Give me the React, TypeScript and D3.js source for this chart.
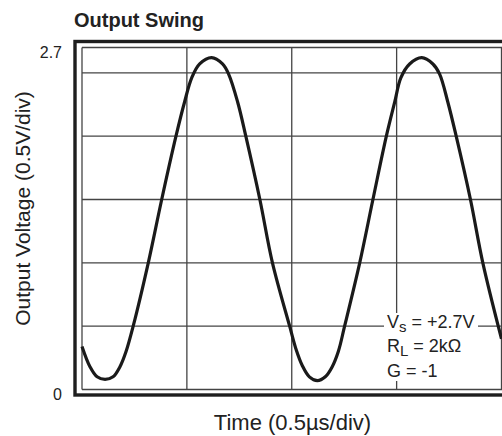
import React, { useEffect, useRef } from "react";
import * as d3 from "d3";

// scope trace: time in µs, output in volts
const timeUs = [
    0, 0.038, 0.072, 0.11, 0.148, 0.181, 0.21, 0.244, 0.316, 0.38, 0.448, 0.489, 0.523, 0.561, 0.618, 0.67, 0.699, 0.742, 0.781, 0.848, 0.908, 0.99,
    1.022, 1.05, 1.084, 1.122, 1.16, 1.193, 1.222, 1.252, 1.324, 1.387, 1.451, 1.491, 1.52, 1.562, 1.62, 1.673, 1.705, 1.744, 1.784, 1.852, 1.911, 2.0,
];
const outputV = [
    0.34, 0.18, 0.1, 0.08, 0.1, 0.18, 0.3, 0.5, 1.0, 1.5, 2.0, 2.27, 2.46, 2.57, 2.62, 2.57, 2.49, 2.27, 2.0, 1.5, 1.0, 0.5,
    0.31, 0.19, 0.1, 0.07, 0.1, 0.18, 0.3, 0.5, 1.0, 1.5, 2.0, 2.27, 2.46, 2.57, 2.62, 2.57, 2.49, 2.27, 2.0, 1.5, 1.0, 0.4,
];

const timeGrid = [0, 0.5, 1.0, 1.5, 2.0];
const voltGrid = [0, 0.5, 1.0, 1.5, 2.0, 2.5, 2.7];
const voltLabels = [2.7, 0];

const FONT = "'Liberation Sans', Arial, Helvetica, sans-serif";

const App = () => {
    const svgRef = useRef<SVGSVGElement>(null);

    useEffect(() => {
        const svg = d3.select(svgRef.current);
        svg.selectAll("*").remove();

        const x = d3.scaleLinear().domain([0, 2.0]).range([82, 501.5]);
        const y = d3.scaleLinear().domain([0, 2.7]).range([389.5, 47.5]);

        // thick outer frame (runs off the right edge like the source)
        svg.append("rect")
            .attr("x", 75)
            .attr("y", 41.5)
            .attr("width", 440)
            .attr("height", 353.5)
            .attr("fill", "none")
            .attr("stroke", "#1e1e1e")
            .attr("stroke-width", 3.4);

        // grid
        svg.selectAll(".vgrid")
            .data(timeGrid)
            .join("line")
            .attr("x1", d => x(d))
            .attr("x2", d => x(d))
            .attr("y1", y(2.7))
            .attr("y2", y(0))
            .attr("stroke", "#444")
            .attr("stroke-width", 1.3);

        svg.selectAll(".hgrid")
            .data(voltGrid)
            .join("line")
            .attr("x1", x(0))
            .attr("x2", 510)
            .attr("y1", d => y(d))
            .attr("y2", d => y(d))
            .attr("stroke", "#444")
            .attr("stroke-width", 1.3);

        // trace
        const pts: [number, number][] = timeUs.map((t, i) => [t, outputV[i]]);
        const line = d3.line<[number, number]>()
            .x(d => x(d[0]))
            .y(d => y(d[1]))
            .curve(d3.curveCatmullRom.alpha(0.5));

        svg.append("path")
            .datum(pts)
            .attr("d", line)
            .attr("fill", "none")
            .attr("stroke", "#1a1a1a")
            .attr("stroke-width", 3.2)
            .attr("stroke-linejoin", "round");

        // condition box
        svg.append("rect")
            .attr("x", 384)
            .attr("y", 313)
            .attr("width", 94)
            .attr("height", 68)
            .attr("fill", "#fff");

        const note = svg.append("g")
            .attr("font-family", FONT)
            .attr("font-size", 18)
            .attr("fill", "#222");

        const l1 = note.append("text").attr("x", 387).attr("y", 327.5);
        l1.append("tspan").text("V");
        l1.append("tspan").attr("dy", 4.5).attr("font-size", 15).text("s");
        l1.append("tspan").attr("dy", -4.5).text(" = +2.7V");

        const l2 = note.append("text").attr("x", 387).attr("y", 352);
        l2.append("tspan").text("R");
        l2.append("tspan").attr("dy", 4).attr("font-size", 15).text("L");
        l2.append("tspan").attr("dy", -4).text(" = 2kΩ");

        note.append("text").attr("x", 387).attr("y", 377).text("G = -1");

        // value labels at the frame corners
        svg.selectAll(".vlabel")
            .data(voltLabels)
            .join("text")
            .attr("x", 62)
            .attr("y", d => y(d) + 10)
            .attr("text-anchor", "end")
            .attr("font-family", FONT)
            .attr("font-size", 16)
            .attr("fill", "#222")
            .text(d => String(d));

        svg.append("text")
            .attr("x", 74)
            .attr("y", 27)
            .attr("font-family", FONT)
            .attr("font-weight", "bold")
            .attr("font-size", 20)
            .attr("fill", "#222")
            .text("Output Swing");

        svg.append("text")
            .attr("transform", "translate(30,208.5) rotate(-90)")
            .attr("text-anchor", "middle")
            .attr("font-family", FONT)
            .attr("font-size", 21)
            .attr("fill", "#222")
            .text("Output Voltage (0.5V/div)");

        svg.append("text")
            .attr("x", 292.5)
            .attr("y", 430)
            .attr("text-anchor", "middle")
            .attr("font-family", FONT)
            .attr("font-size", 22)
            .attr("fill", "#222")
            .text("Time (0.5µs/div)");
    }, []);

    return (
        <svg
            ref={svgRef}
            width={502}
            height={436}
            style={{ position: "absolute", left: 0, top: 0, background: "#fff" }}
        />
    );
};

export default App;
